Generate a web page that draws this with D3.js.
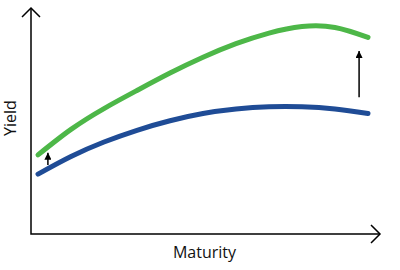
<!DOCTYPE html>
<html>
<head>
<meta charset="utf-8">
<script src="https://cdn.jsdelivr.net/npm/d3@7"></script>
<style>
  html, body { margin: 0; padding: 0; background: #fff; }
  svg { display: block; }
</style>
</head>
<body>
<div id="chart"></div>
<script>
// Maturity steps (arbitrary units) and the two yield curves
const maturity = [0, 1, 2, 3, 4, 5, 6, 7, 8, 9, 10];
const yieldAfter = [35, 46.3, 55.5, 63.5, 71.2, 78.2, 84.2, 88.9, 91.8, 91.4, 87];
const yieldBefore = [26.5, 34.3, 40.7, 45.9, 50.1, 53.3, 55.3, 56.3, 56.3, 55.3, 53.3];

// Shift arrows: maturity, from yield, to yield
const shiftAt = [0.3, 9.73];
const shiftFrom = [30.5, 60.5];
const shiftTo = [36, 81];

const axisLabels = ["Maturity", "Yield"];

const width = 400, height = 270;

const svg = d3.select("#chart")
    .append("svg")
    .attr("width", width)
    .attr("height", height);

const x = d3.scaleLinear().domain([0, 10]).range([38, 368]);
const y = d3.scaleLinear().domain([0, 100]).range([234, 8]);

// axis frame
const x0 = 31, x1 = 380, yBase = y(0), yTop = y(100);

const defs = svg.append("defs");
defs.append("marker")
    .attr("id", "head")
    .attr("viewBox", "0 0 10 10")
    .attr("refX", 10)
    .attr("refY", 5)
    .attr("markerWidth", 7)
    .attr("markerHeight", 7)
    .attr("markerUnits", "userSpaceOnUse")
    .attr("orient", "auto")
    .append("path")
    .attr("d", "M0,0 L10,5 L0,10 Z")
    .attr("fill", "#000");

const axes = svg.append("g")
    .attr("fill", "none")
    .attr("stroke", "#000")
    .attr("stroke-width", 1.5);

axes.append("path")
    .attr("d", `M${x0},${yTop} L${x0},${yBase} L${x1},${yBase}`);
// open chevrons
axes.append("path")
    .attr("d", `M${x0 - 9},${yTop + 9} L${x0},${yTop} L${x0 + 9},${yTop + 9}`);
axes.append("path")
    .attr("d", `M${x1 - 9},${yBase - 9} L${x1},${yBase} L${x1 - 9},${yBase + 9}`);

const line = d3.line()
    .x((d, i) => x(maturity[i]))
    .y(d => y(d))
    .curve(d3.curveNatural);

svg.append("path")
    .datum(yieldBefore)
    .attr("d", line)
    .attr("fill", "none")
    .attr("stroke", "#1f4c96")
    .attr("stroke-width", 5)
    .attr("stroke-linecap", "round");

svg.append("path")
    .datum(yieldAfter)
    .attr("d", line)
    .attr("fill", "none")
    .attr("stroke", "#4db748")
    .attr("stroke-width", 5)
    .attr("stroke-linecap", "round");

svg.selectAll("line.shift")
    .data(shiftAt)
    .enter()
    .append("line")
    .attr("class", "shift")
    .attr("x1", d => x(d))
    .attr("x2", d => x(d))
    .attr("y1", (d, i) => y(shiftFrom[i]))
    .attr("y2", (d, i) => y(shiftTo[i]))
    .attr("stroke", "#000")
    .attr("stroke-width", 1.5)
    .attr("marker-end", "url(#head)");

svg.append("text")
    .attr("x", 204.5)
    .attr("y", 258)
    .attr("text-anchor", "middle")
    .attr("font-family", "'Open Sans', sans-serif")
    .attr("font-size", 16)
    .attr("fill", "#111")
    .text(axisLabels[0]);

svg.append("text")
    .attr("transform", "translate(16,118) rotate(-90)")
    .attr("text-anchor", "middle")
    .attr("font-family", "'Open Sans', sans-serif")
    .attr("font-size", 16)
    .attr("fill", "#111")
    .text(axisLabels[1]);
</script>
</body>
</html>
